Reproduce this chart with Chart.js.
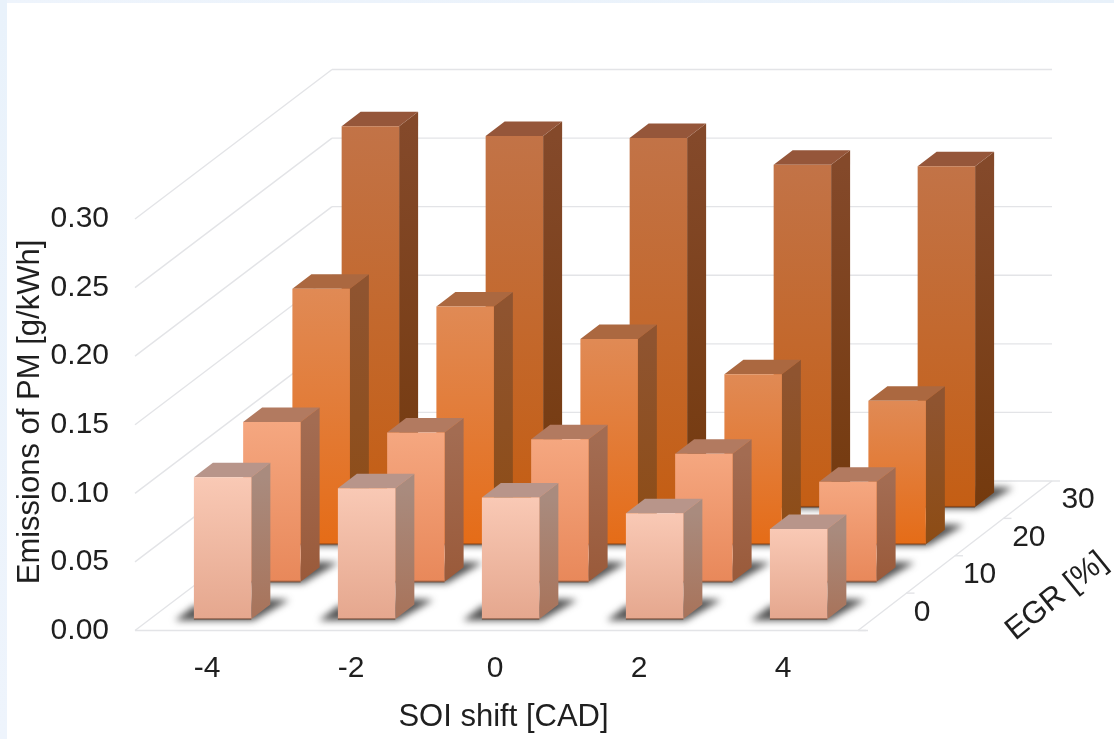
<!DOCTYPE html>
<html>
<head>
<meta charset="utf-8">
<title>Emissions of PM</title>
<script src="https://cdn.jsdelivr.net/npm/chart.js@4"></script>
<style>
  html, body { margin: 0; padding: 0; }
  body {
    width: 1114px; height: 739px; overflow: hidden;
    background:
      linear-gradient(#e9f2fb, #eef4fc) left top / 7px 100% no-repeat,
      linear-gradient(90deg, #eef4fc, #e8f1fa) left top / 100% 3px no-repeat,
      #fff;
  }
  canvas { display: block; }
</style>
</head>
<body>
<canvas id="pmChart" width="1114" height="739"></canvas>
<script>
const soiShift = ["-4", "-2", "0", "2", "4"];
const egrLevels = ["0", "10", "20", "30"];
const yTicks = [0, 0.05, 0.10, 0.15, 0.20, 0.25, 0.30];

const pmEgr0 = [0.1033, 0.0954, 0.0886, 0.0772, 0.0657];
const pmEgr10 = [0.1165, 0.1087, 0.1039, 0.0932, 0.0729];
const pmEgr20 = [0.1863, 0.1734, 0.1496, 0.1240, 0.1046];
const pmEgr30 = [0.2775, 0.2705, 0.2690, 0.2495, 0.2483];

// front gradient, side gradient, top face for each depth row
const rowColors = [
    { front: ["#f9c9b5", "#e5a78e"], side: ["#a98b7e", "#a8735a"], top: "#b8958a" },
    { front: ["#f5a780", "#e8885a"], side: ["#a36c52", "#9a5a3a"], top: "#b27a60" },
    { front: ["#e08a55", "#e56c17"], side: ["#8f5430", "#8d4c14"], top: "#ab6840" },
    { front: ["#c27347", "#c45e14"], side: ["#84492a", "#743a0e"], top: "#95563a" }
];

// oblique projection of the floor
const depthX = 197;
const depthY = 149.5;
const rowDx = depthX / egrLevels.length;
const rowDy = depthY / egrLevels.length;
const barDepthX = 19;
const barDepthY = 14.5;
const gapX = (rowDx - barDepthX) / 2 + 0.5;
const gapY = (rowDy - barDepthY) / 2;
const floorOverhang = 3;

const tickFont = "30px 'Liberation Sans', Arial, sans-serif";
const titleFont = "31px 'Liberation Sans', Arial, sans-serif";
const textColor = "#1f1f1f";
const gridColor = "#e3e4e7";

function line(ctx, x1, y1, x2, y2) {
    ctx.beginPath();
    ctx.moveTo(x1, y1);
    ctx.lineTo(x2, y2);
    ctx.stroke();
}

function poly(ctx, pts, fill) {
    ctx.beginPath();
    pts.forEach((p, i) => i ? ctx.lineTo(p[0], p[1]) : ctx.moveTo(p[0], p[1]));
    ctx.closePath();
    ctx.fillStyle = fill;
    ctx.fill();
}

function vGrad(ctx, y1, y2, stops) {
    const g = ctx.createLinearGradient(0, y1, 0, y2);
    g.addColorStop(0, stops[0]);
    g.addColorStop(1, stops[1]);
    return g;
}

// walls and floor, drawn from the value scale
const wallsPlugin = {
    id: "walls",
    beforeDatasetsDraw(chart) {
        const { ctx, chartArea } = chart;
        const y = chart.scales.y;
        const left = chartArea.left;
        const right = chartArea.right;
        const y0 = y.getPixelForValue(0);
        ctx.save();
        ctx.strokeStyle = gridColor;
        ctx.lineWidth = 1.4;
        yTicks.forEach(v => {
            const py = y.getPixelForValue(v);
            line(ctx, left, py, left + depthX, py - depthY);
            line(ctx, left + depthX, py - depthY, right + depthX, py - depthY);
        });
        const frontX = right + floorOverhang;
        line(ctx, left, y0, frontX + 10, y0);
        line(ctx, frontX, y0, right + depthX, y0 - depthY);
        for (let k = 0; k <= egrLevels.length; k++) {
            const tx = frontX + k * (depthX - floorOverhang) / egrLevels.length;
            const ty = y0 - k * rowDy;
            line(ctx, tx, ty, tx + 8, ty);
        }
        ctx.restore();
    }
};

// shifts each row back along the floor and adds the shadow, side and top of its bars
const depthPlugin = {
    id: "depth",
    beforeDatasetDraw(chart, args) {
        const ctx = chart.ctx;
        const k = args.index;
        const colors = rowColors[k];
        ctx.save();
        ctx.translate(gapX + k * rowDx, -(gapY + k * rowDy));
        args.meta.data.forEach(el => {
            const l = el.x - el.width / 2;
            const r = el.x + el.width / 2;
            ctx.save();
            ctx.filter = "blur(3.5px)";
            poly(ctx, [
                [l - 19, el.base + 1.5], [r + 2, el.base + 1.5],
                [r + 38, el.base - 19],
                [r + barDepthX, el.base - 20],
                [l, el.base - 13]
            ], "rgba(45,45,45,0.82)");
            ctx.restore();
            poly(ctx, [
                [r, el.y], [r + barDepthX, el.y - barDepthY],
                [r + barDepthX, el.base - barDepthY], [r, el.base]
            ], vGrad(ctx, el.y, el.base, colors.side));
            poly(ctx, [
                [l, el.y], [l + barDepthX, el.y - barDepthY],
                [r + barDepthX, el.y - barDepthY], [r, el.y]
            ], colors.top);
        });
    },
    afterDatasetDraw(chart, args) {
        const ctx = chart.ctx;
        // darker seam where the front face meets the floor
        ctx.fillStyle = "rgba(80,45,25,0.45)";
        args.meta.data.forEach(el => {
            ctx.fillRect(el.x - el.width / 2, el.base - 1, el.width, 2);
        });
        ctx.restore();
    },
    afterDraw(chart) {
        const { ctx, chartArea } = chart;
        const y0 = chart.scales.y.getPixelForValue(0);
        ctx.save();
        ctx.fillStyle = textColor;

        // depth axis labels sit along the right edge of the floor
        ctx.font = tickFont;
        ctx.textAlign = "left";
        ctx.textBaseline = "middle";
        egrLevels.forEach((label, k) => {
            ctx.fillText(label,
                chartArea.right + floorOverhang + (k + 0.5) * rowDx + 31,
                y0 - (k + 0.5) * rowDy + 0.5);
        });

        ctx.font = titleFont;
        ctx.textAlign = "center";
        ctx.textBaseline = "alphabetic";
        ctx.fillText("SOI shift [CAD]", 503.5, 726);

        ctx.save();
        ctx.translate(38.5, 412);
        ctx.rotate(-Math.PI / 2);
        ctx.fillText("Emissions of PM [g/kWh]", 0, 0);
        ctx.restore();

        ctx.translate(1062, 603);
        ctx.rotate(-39 * Math.PI / 180);
        ctx.fillText("EGR [%]", 0, 0);
        ctx.restore();
    }
};

function rowDataset(label, values, k) {
    return {
        label: label,
        data: values,
        clip: false,
        backgroundColor(c) {
            const chart = c.chart;
            if (!chart.chartArea || !c.parsed) return rowColors[k].front[0];
            const y = chart.scales.y;
            return vGrad(chart.ctx, y.getPixelForValue(c.parsed.y), y.getPixelForValue(0), rowColors[k].front);
        }
    };
}

new Chart(document.getElementById("pmChart"), {
    type: "bar",
    data: {
        labels: soiShift,
        datasets: [
            rowDataset("EGR 0", pmEgr0, 0),
            rowDataset("EGR 10", pmEgr10, 1),
            rowDataset("EGR 20", pmEgr20, 2),
            rowDataset("EGR 30", pmEgr30, 3)
        ]
    },
    options: {
        responsive: false,
        animation: false,
        grouped: false,
        barPercentage: 1,
        categoryPercentage: 0.399,
        layout: { padding: { top: 219, right: 259, bottom: 0, left: 0 } },
        plugins: { legend: { display: false }, tooltip: { enabled: false } },
        scales: {
            x: {
                grid: { display: false, drawTicks: false },
                border: { display: false },
                ticks: { color: textColor, font: { family: "Liberation Sans", size: 30 }, padding: 20, maxRotation: 0 },
                afterFit(s) { s.height = 108.5; }
            },
            y: {
                min: 0,
                max: 0.30,
                grid: { display: false, drawTicks: false },
                border: { display: false },
                afterBuildTicks(s) { s.ticks = yTicks.map(v => ({ value: v })); },
                ticks: {
                    color: textColor,
                    font: { family: "Liberation Sans", size: 30 },
                    padding: 26,
                    callback: v => v.toFixed(2)
                },
                afterFit(s) { s.width = 135; }
            }
        }
    },
    plugins: [wallsPlugin, depthPlugin]
});
</script>
</body>
</html>
